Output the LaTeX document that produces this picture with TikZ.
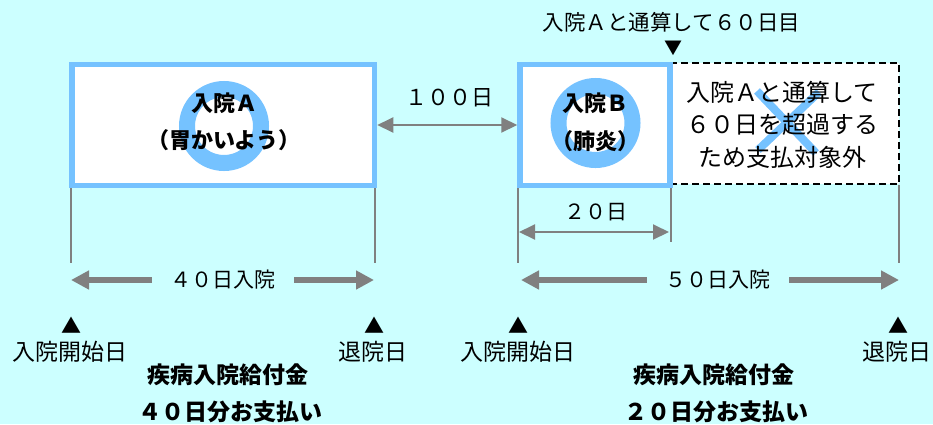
\documentclass[tikz,border=0pt]{standalone}
\usepackage{fontspec}
\setmainfont{Noto Sans CJK JP}
\usepackage{xcolor}
\usetikzlibrary{arrows.meta}

\definecolor{bg}{RGB}{204,255,255}
\definecolor{ward}{RGB}{117,194,255}
\definecolor{tickgray}{RGB}{128,128,128}

\begin{document}
\begin{tikzpicture}[x=1pt, y=-1pt,
    stay/.style={draw=ward, line width=5.5pt, fill=white, inner sep=0pt, minimum height=121pt},
    overstay/.style={draw=black, line width=1.5pt, dash pattern=on 7pt off 4pt, fill=white, inner sep=0pt, minimum height=121pt},
    ring/.style={circle, draw=ward, line width=16pt, minimum size=74pt, inner sep=0pt},
    cross/.style={draw=ward, line width=8pt},
    tick/.style={draw=tickgray, line width=2.5pt},
    span/.style={draw=tickgray, line width=2pt, {Triangle[length=16pt,width=15pt]}-{Triangle[length=16pt,width=15pt]}},
    fat/.style={draw=tickgray, line width=6pt, -{Triangle[length=18pt,width=18pt]}},
    jp/.style={inner sep=0pt, font=\fontsize{#1pt}{#1pt}\selectfont},
    jpb/.style={inner sep=0pt, font=\fontsize{#1pt}{#1pt}\selectfont\bfseries}]

    \fill[bg] (0,0) rectangle (933,424);
    \useasboundingbox (0,0) rectangle (933,424);

    % stays
    \node[overstay, minimum width=229pt] (over) at (784.5,123.5) {};
    \node[stay, minimum width=302.5pt] (stayA) at (223.25,125) {};
    \node[stay, minimum width=150pt] (stayB) at (595,125) {};
    \node[ring] (ringA) at (224,126) {};
    \node[ring] (ringB) at (595.5,123) {};
    \draw[cross] (757,91) -- (816,153); % x
    \draw[cross] (819,92) -- (758,150);

    \node[jpb=22, align=center, font=\fontsize{22pt}{37pt}\selectfont\bfseries] (nameA) at (224,122) {入院Ａ\\（胃かいよう）};
    \node[jpb=22, align=center, font=\fontsize{22pt}{38pt}\selectfont\bfseries] (nameB) at (595,122.5) {入院Ｂ\\（肺炎）};
    \node[jp=24, align=center, font=\fontsize{24pt}{32.5pt}\selectfont] (outtxt) at (782,124.5) {入院Ａと通算して\\６０日を超過する\\ため支払対象外};

    \node[jp=21.5] (sixty) at (671.5,22) {入院Ａと通算して６０日目};
    \node[jp=18] (mark) at (673,48) {▼};

    % ticks
    \coordinate (a0) at (71,263);
    \coordinate (a1) at (375,263);
    \coordinate (b0) at (518,263);
    \coordinate (b1) at (671,242);
    \coordinate (b2) at (899,263);
    \draw[tick] (a0 |- stayA.south) -- (a0);
    \draw[tick] (a1 |- stayA.south) -- (a1);
    \draw[tick] (b0 |- stayB.south) -- (b0);
    \draw[tick] (b1 |- stayB.south) -- (b1);
    \draw[tick] (b2 |- over.south) -- (b2);

    % A-B
    \draw[span] (stayA.east) -- (stayB.west);
    \node[jp=22] (gap) at (449,98) {１００日};

    \coordinate (c0) at (519,232);
    \coordinate (c1) at (669,232);
    \draw[span] (c0) -- (c1); % B 20
    \node[jp=21] (len20) at (596,212.5) {２０日};

    % 40 / 50
    \coordinate (l40) at (71,280);
    \coordinate (r40) at (374,280);
    \node[jp=21, inner xsep=18.5pt] (len40) at (223,280) {４０日入院};
    \draw[fat] (len40) -- (l40);
    \draw[fat] (len40) -- (r40);

    \coordinate (l50) at (521,280);
    \coordinate (r50) at (899,280);
    \node[jp=21, inner xsep=18.5pt] (len50) at (718,280) {５０日入院};
    \draw[fat] (len50) -- (l50);
    \draw[fat] (len50) -- (r50);

    % days
    \node[jp=20] (inA) at (71,325) {▲};
    \node[jp=20] (outA) at (374,325) {▲};
    \node[jp=20] (inB) at (518,325) {▲};
    \node[jp=20] (outB) at (898,325) {▲};
    \node[jp=23] (inAtxt) at (70,352) {入院開始日};
    \node[jp=23] (outAtxt) at (373,352) {退院日};
    \node[jp=23] (inBtxt) at (518,352) {入院開始日};
    \node[jp=23] (outBtxt) at (897,352) {退院日};

    \node[jpb=23] (payA) at (228,375) {疾病入院給付金};
    \node[jpb=23] (sumA) at (230,412) {４０日分お支払い};
    \node[jpb=23] (payB) at (714,375) {疾病入院給付金};
    \node[jpb=23] (sumB) at (716,412) {２０日分お支払い};
\end{tikzpicture}
\end{document}
